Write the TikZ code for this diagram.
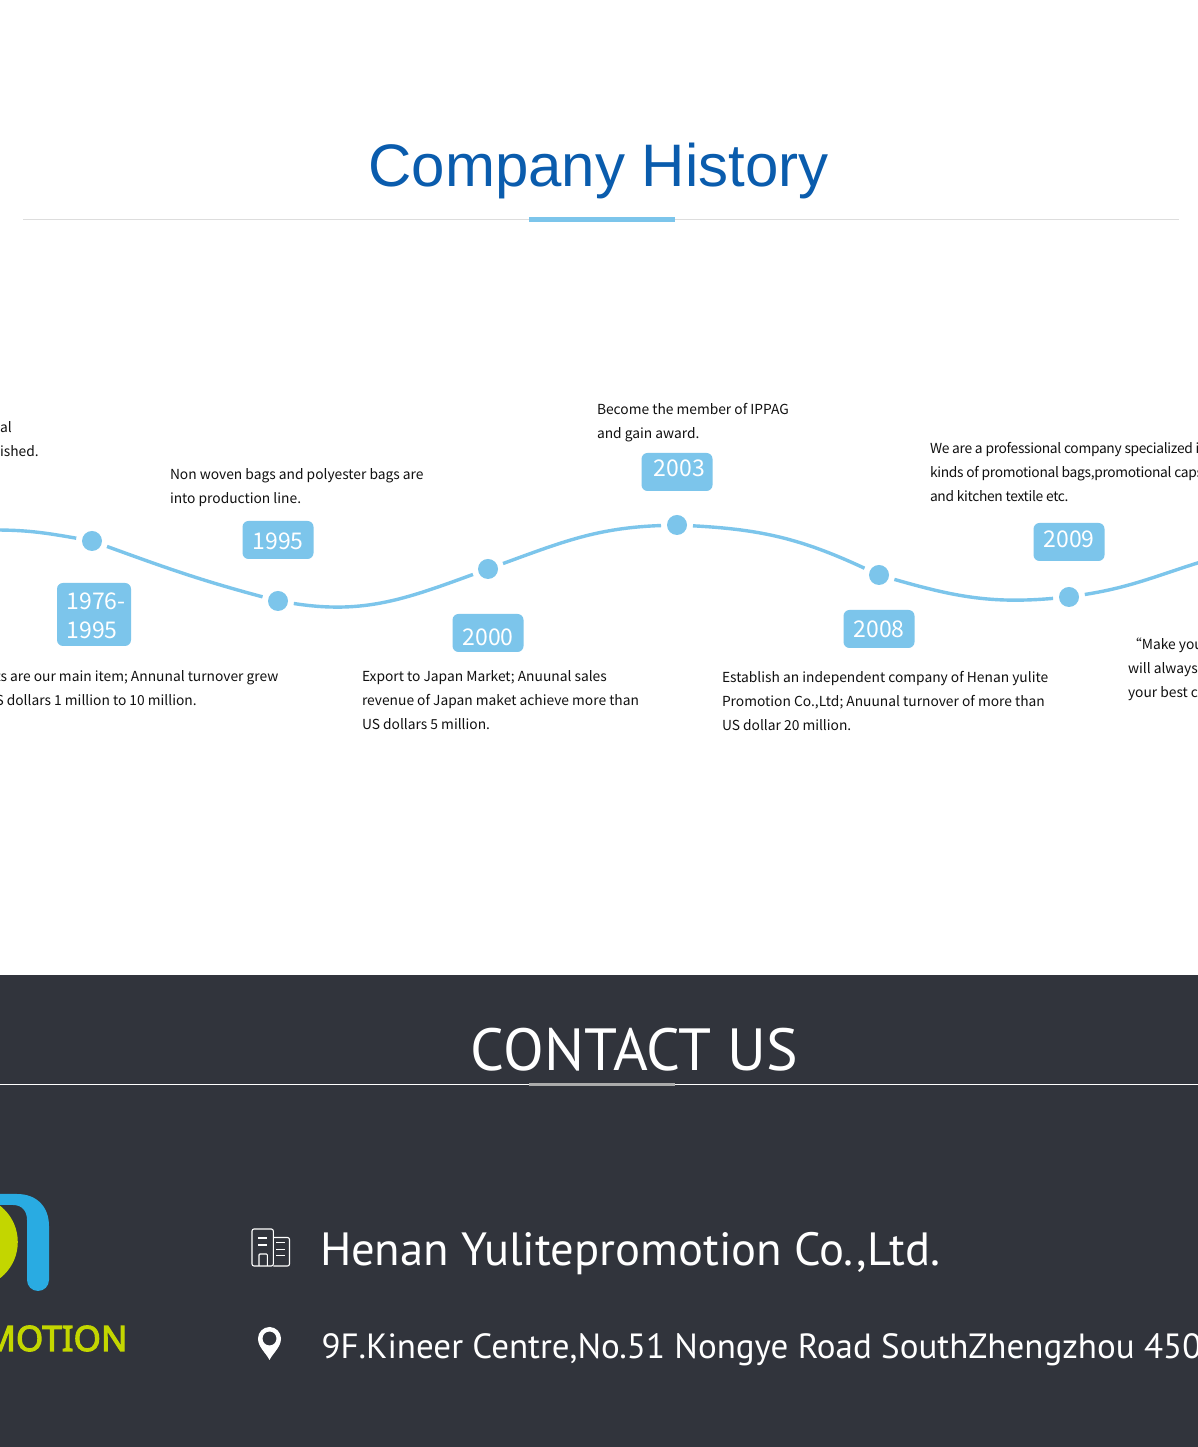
\documentclass[tikz,border=0pt]{standalone}
\usepackage{fontspec}
\setmainfont{Noto Sans CJK SC}
\newfontfamily\titlefont{Liberation Sans}
\newfontfamily\contactfont{PT Sans}
\newfontfamily\logofont[FakeBold=3]{Noto Sans}
\usetikzlibrary{positioning}
\definecolor{skyline}{HTML}{7CC5EB}
\definecolor{titleblue}{HTML}{0A5CAD}
\definecolor{rulegray}{HTML}{DDDDDD}
\definecolor{darkband}{HTML}{31343C}
\definecolor{logoblue}{HTML}{29ABE2}
\definecolor{logolime}{HTML}{C3D600}
\definecolor{bodytext}{HTML}{111111}
\newcommand{\yrtext}[2]{\raisebox{#1}[\height][\depth]{#2}}
\tikzset{
  dotnode/.style={
    circle, fill=skyline, minimum size=20pt, inner sep=0pt, outer sep=0pt
  },
  dotgap/.style={
    circle, minimum size=32pt, inner sep=0pt, outer sep=0pt
  },
  yearbox/.style={
    rectangle, rounded corners=6pt, fill=skyline, text=white,
    minimum width=71pt, minimum height=38pt, inner sep=0pt, outer sep=0pt,
    font=\fontsize{23}{29}\selectfont, align=left
  },
  descnode/.style={
    inner sep=0pt, outer sep=0pt, align=left, text=bodytext,
    font=\fontsize{13.8}{24}\selectfont
  },
  curveline/.style={draw=skyline, line width=3.4pt},
  iconline/.style={draw=white, line width=1.1pt},
  contacttext/.style={
    inner sep=0pt, outer sep=0pt, text=white, anchor=base west
  },
}
\begin{document}
\begin{tikzpicture}[x=1pt, y=1pt]
\path[use as bounding box, clip] (0,0) rectangle (1198,1447);

% Backgrounds
\fill[white] (0,472) rectangle (1198,1447);
\fill[darkband] (0,0) rectangle (1198,472);

% Title
\node[inner sep=0pt, anchor=base, text=titleblue, font=\titlefont\fontsize{60}{60}\selectfont] (title) at (598.5,1260) {Company History};
\fill[rulegray] (23,1227) rectangle (1179,1228);
\fill[skyline] (529,1225) rectangle (675,1230);

% Dots on the curve
\node[dotnode] (dot1976) at (92,906) {};
\node[dotnode] (dot1995) at (278,846) {};
\node[dotnode] (dot2000) at (488,878) {};
\node[dotnode] (dot2003) at (677,922) {};
\node[dotnode] (dot2008) at (879,872) {};
\node[dotnode] (dot2009) at (1069,850) {};
\foreach \yr in {1976,1995,2000,2003,2008,2009}
  \node[dotgap] (gap\yr) at (dot\yr) {};
\coordinate (curvestart) at (-6,917);
\coordinate (curveend) at (1204,886);

% Curve pieces
\draw[curveline] (curvestart) to[out=0, in=170] (gap1976);
\draw[curveline] (gap1976) to[out=-20, in=165] (gap1995);
\draw[curveline] (gap1995) to[out=-9, in=200] (gap2000);
\draw[curveline] (gap2000) to[out=20, in=182] (gap2003);
\draw[curveline] (gap2003) to[out=-3, in=155] (gap2008);
\draw[curveline] (gap2008) to[out=-16, in=185] (gap2009);
\draw[curveline] (gap2009) to[out=9, in=197] (curveend);

% Year boxes
\node[yearbox, minimum width=74pt, minimum height=63pt, below=26pt of gap1976, xshift=2pt] (yr1976) {\hspace*{4pt}\yrtext{-1pt}{1976-}\\\hspace*{4pt}\yrtext{-1pt}{1995}};
\node[yearbox, above=26pt of gap1995] (yr1995) {\yrtext{-1pt}{1995}};
\node[yearbox, below=29pt of gap2000] (yr2000) {\yrtext{-4pt}{2000}};
\node[yearbox, above=18pt of gap2003] (yr2003) {\hspace*{5pt}\yrtext{3.5pt}{2003}};
\node[yearbox, below=19pt of gap2008] (yr2008) {2008};
\node[yearbox, above=20pt of gap2009] (yr2009) {\yrtext{3pt}{2009}};

% Descriptions
\node[descnode, anchor=north west] (desc1970) at (0,1025) {al\\ished.};
\node[descnode, anchor=north west] (desc1976) at (-4.5,776) {ts are our main item; Annunal turnover grew\\S dollars 1 million to 10 million.};
\node[descnode, anchor=north west] (desc1995) at (170,978) {Non woven bags and polyester bags are\\into production line.};
\node[descnode, anchor=north west] (desc2000) at (362,776) {Export to Japan Market; Anuunal sales\\revenue of Japan maket achieve more than\\US dollars 5 million.};
\node[descnode, anchor=north west] (desc2003) at (597,1044) {Become the member of IPPAG\\and gain award.};
\node[descnode, anchor=north west] (desc2008) at (722,776) {Establish an independent company of Henan yulite\\Promotion Co.,Ltd; Anuunal turnover of more than\\US dollar 20 million.};
\node[descnode, anchor=north west, font=\fontsize{13.8}{24}\selectfont\addfontfeature{LetterSpace=-2.3}] (desc2009) at (930,1005) {We are a professional company specialized i\\kinds of promotional bags,promotional caps\\and kitchen textile etc.};
\node[descnode, anchor=north west] (desc2012) at (1128,809) {“Make you\\will always\\your best c};

% Contact header
\node[contacttext, anchor=base, font=\contactfont\fontsize{59.5}{60}\selectfont] (contact) at (634.5,376) {CONTACT US};
\fill[white] (0,362) rectangle (1198,363);
\fill[black!33] (529,361) rectangle (675,364.3);

% Logo
\fill[logolime] (-28,205) circle (45.8);
\fill[logoblue] (-5,253) -- (17,253) .. controls (37,253) and (49,240) .. (49,221)
  -- (49,167) arc[start angle=0, end angle=-180, radius=11] -- (27,227)
  .. controls (27,236) and (22,242) .. (13,242) -- (-5,242) -- cycle;
\node[contacttext, anchor=base east, text=logolime, font=\logofont\fontsize{35}{35}\selectfont] (logotext) at (127.5,96) {MOTION};

% Building icon
\draw[iconline, rounded corners=2pt] (252,181) -- (252,218) -- (273.3,218) -- (273.3,181) -- cycle;
\draw[iconline, rounded corners=2pt] (273.3,209.5) -- (289.5,209.5) -- (289.5,181) -- (273.3,181);
\draw[iconline, rounded corners=1pt] (259,181) -- (259,193) -- (267.3,193) -- (267.3,181);
\foreach \ly in {209,202} \draw[iconline] (258.3,\ly) -- (267.3,\ly);
\foreach \ly in {204.3,197.7,191.3} \draw[iconline] (276.3,\ly) -- (284.7,\ly);

% Pin icon
\fill[white, even odd rule] (269.5,87) .. controls (266,94) and (258,100) .. (258,108.5)
  arc[start angle=180, end angle=0, radius=11.5]
  .. controls (281,100) and (273,94) .. (269.5,87) -- cycle
  (269.5,108.5) circle (7);

% Contact lines
\node[contacttext, font=\contactfont\fontsize{46.6}{47}\selectfont] (company) at (320,181.5) {Henan Yulitepromotion Co.,Ltd.};
\node[contacttext, font=\contactfont\fontsize{35}{36}\selectfont] (address) at (321.5,88) {9F.Kineer Centre,No.51 Nongye Road SouthZhengzhou 450};

\end{tikzpicture}
\end{document}
